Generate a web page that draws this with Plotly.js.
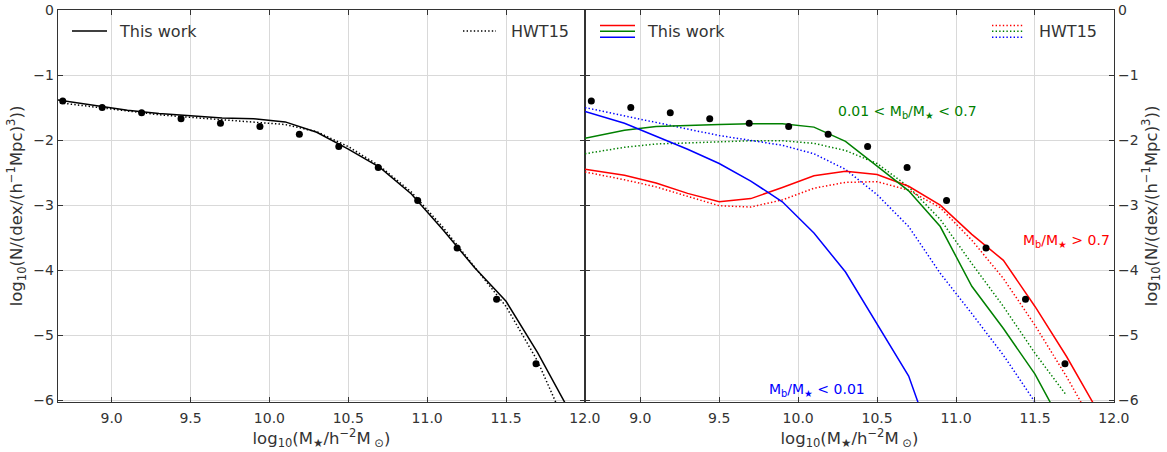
<!DOCTYPE html>
<html>
<head>
<meta charset="utf-8">
<script src="https://cdn.plot.ly/plotly-3.0.1.min.js"></script>
<style>html,body{margin:0;padding:0;background:#fff;}#chart{width:1167px;height:452px;}</style>
</head>
<body>
<div id="chart"></div>
<script>
// ---- data ----
const massBins = [8.65, 8.9, 9.1, 9.3, 9.5, 9.7, 9.9, 10.1, 10.3, 10.5, 10.7, 10.9, 11.1, 11.3, 11.5, 11.7, 11.9];

// left panel: all galaxies
const allThisWork = [-1.38, -1.47, -1.54, -1.59, -1.63, -1.66, -1.67, -1.72, -1.88, -2.14, -2.42, -2.83, -3.38, -3.96, -4.48, -5.27, -6.16];
const allHWT15    = [-1.42, -1.49, -1.55, -1.61, -1.65, -1.69, -1.72, -1.76, -1.87, -2.10, -2.40, -2.80, -3.34, -3.95, -4.56, -5.40, -6.50];

// observational points (black dots, both panels)
const obsMass = [8.69, 8.94, 9.19, 9.44, 9.69, 9.94, 10.19, 10.44, 10.69, 10.94, 11.19, 11.44, 11.69];
const obsPhi  = [-1.40, -1.50, -1.58, -1.67, -1.74, -1.79, -1.91, -2.10, -2.42, -2.93, -3.66, -4.45, -5.44];

// right panel: split by bulge-to-total ratio
const highThisWork = [-2.45, -2.54, -2.66, -2.82, -2.95, -2.90, -2.73, -2.55, -2.48, -2.53, -2.71, -3.00, -3.45, -3.85, -4.56, -5.33, -6.18];
const highHWT15    = [-2.49, -2.61, -2.72, -2.86, -3.01, -3.03, -2.92, -2.74, -2.65, -2.64, -2.77, -3.04, -3.54, -4.13, -4.85, -5.64, -6.50];
const midThisWork  = [-1.97, -1.85, -1.79, -1.77, -1.76, -1.75, -1.75, -1.80, -2.02, -2.40, -2.78, -3.33, -4.25, -4.90, -5.60, -6.50, null];
const midHWT15     = [-2.21, -2.11, -2.06, -2.04, -2.03, -2.01, -2.01, -2.05, -2.16, -2.36, -2.72, -3.22, -3.90, -4.56, -5.28, -5.93, null];
const lowThisWork  = [-1.56, -1.74, -1.94, -2.14, -2.36, -2.63, -2.95, -3.43, -4.03, -4.82, -5.63, -7.00, null, null, null, null, null];
const lowHWT15     = [-1.50, -1.63, -1.73, -1.83, -1.93, -2.00, -2.08, -2.21, -2.45, -2.84, -3.33, -4.05, -4.67, -5.31, -6.03, -6.80, null];

const xTickVals = [9.0, 9.5, 10.0, 10.5, 11.0, 11.5, 12.0];
const yTickVals = [0, -1, -2, -3, -4, -5, -6];

// ---- styling ----
const RED = '#ff0000', GREEN = '#008000', BLUE = '#0000ff', BLACK = '#000000';
const DOT = '1.4px,2.2px';
const LW = 1.5;
const FONT = 'DejaVu Sans, sans-serif';
const TXT = '#333333';

function line(x, y, color, dash, xa, ya) {
  return {x: x, y: y, type: 'scatter', mode: 'lines', xaxis: xa, yaxis: ya,
          line: {color: color, width: LW, dash: dash}, connectgaps: false, hoverinfo: 'skip'};
}
function dots(xa, ya) {
  return {x: obsMass, y: obsPhi, type: 'scatter', mode: 'markers', xaxis: xa, yaxis: ya,
          marker: {color: BLACK, size: 7}, hoverinfo: 'skip'};
}

const traces = [
  line(massBins, allThisWork, BLACK, 'solid', 'x', 'y'),
  line(massBins, allHWT15, BLACK, DOT, 'x', 'y'),
  dots('x', 'y'),
  line(massBins, highHWT15, RED, DOT, 'x2', 'y2'),
  line(massBins, midHWT15, GREEN, DOT, 'x2', 'y2'),
  line(massBins, lowHWT15, BLUE, DOT, 'x2', 'y2'),
  line(massBins, highThisWork, RED, 'solid', 'x2', 'y2'),
  line(massBins, midThisWork, GREEN, 'solid', 'x2', 'y2'),
  line(massBins, lowThisWork, BLUE, 'solid', 'x2', 'y2'),
  dots('x2', 'y2')
];

const xTitle = 'log<sub>10</sub>(M<sub>★</sub>/h<sup>−2</sup>M<sub> ⊙</sub>)';
const yTitle = 'log<sub>10</sub>(N/(dex/(h<sup>−1</sup>Mpc)<sup>3</sup>))';

function xAxis(domain, range, anchor) {
  return {
    domain: domain, range: range, anchor: anchor,
    tickmode: 'array', tickvals: xTickVals, ticktext: xTickVals.map(v => v.toFixed(1)),
    ticks: 'inside', ticklen: 5, tickwidth: 1, tickcolor: TXT, ticklabelstandoff: 3,
    showline: true, linecolor: TXT, linewidth: 1.2, mirror: 'ticks',
    showgrid: true, gridcolor: '#d9d9d9', gridwidth: 1, zeroline: false,
    tickfont: {family: FONT, size: 14, color: TXT},
    title: {text: xTitle, font: {family: FONT, size: 16.5, color: TXT}, standoff: 7}
  };
}
function yAxis(anchor, side) {
  return {
    domain: [0, 1], range: [-6.03, 0.002], anchor: anchor, side: side,
    tickmode: 'array', tickvals: yTickVals,
    ticks: 'inside', ticklen: 5, tickwidth: 1, tickcolor: TXT,
    showline: true, linecolor: TXT, linewidth: 1.2, mirror: 'ticks',
    showgrid: true, gridcolor: '#d9d9d9', gridwidth: 1, zeroline: false,
    tickfont: {family: FONT, size: 14, color: TXT},
    title: {text: yTitle, font: {family: FONT, size: 16.5, color: TXT}, standoff: 6}
  };
}

// legend samples drawn as paper shapes + text
const L = 58, W = 1056, T = 10, H = 392;
const px = v => (v - L) / W;
const py = v => (T + H - v) / H;
function seg(x0, x1, y, color, dash) {
  return {type: 'line', xref: 'paper', yref: 'paper', x0: px(x0), x1: px(x1), y0: py(y), y1: py(y),
          line: {color: color, width: LW, dash: dash}};
}
function legText(x, y, text) {
  return {xref: 'paper', yref: 'paper', x: px(x), y: py(y), xanchor: 'left', yanchor: 'middle',
          text: text, showarrow: false, font: {family: FONT, size: 16, color: TXT}};
}

const shapes = [
  seg(72, 107, 31, BLACK, 'solid'),
  seg(463, 496, 31, BLACK, DOT),
  seg(600, 635, 25.5, RED, 'solid'),
  seg(600, 635, 31.3, GREEN, 'solid'),
  seg(600, 635, 37.3, BLUE, 'solid'),
  seg(992, 1024, 25.5, RED, DOT),
  seg(992, 1024, 31.3, GREEN, DOT),
  seg(992, 1024, 37.3, BLUE, DOT)
];

const annotations = [
  legText(117, 31, 'This work'),
  legText(509, 31, 'HWT15'),
  legText(645, 31, 'This work'),
  legText(1037, 31, 'HWT15'),
  {xref: 'x2', yref: 'y2', x: 10.69, y: -1.56, text: '0.01 &lt; M<sub>b</sub>/M<sub>★</sub> &lt; 0.7',
   showarrow: false, font: {family: FONT, size: 14, color: GREEN}},
  {xref: 'x2', yref: 'y2', x: 11.70, y: -3.55, text: 'M<sub>b</sub>/M<sub>★</sub> &gt; 0.7',
   showarrow: false, font: {family: FONT, size: 14, color: RED}},
  {xref: 'x2', yref: 'y2', x: 10.12, y: -5.84, text: 'M<sub>b</sub>/M<sub>★</sub> &lt; 0.01',
   showarrow: false, font: {family: FONT, size: 14, color: BLUE}}
];

const layout = {
  width: 1167, height: 452,
  margin: {l: L, r: 1167 - L - W, t: T, b: 452 - T - H, pad: 0},
  paper_bgcolor: '#ffffff', plot_bgcolor: '#ffffff',
  showlegend: false,
  font: {family: FONT, color: TXT, size: 14},
  xaxis: xAxis([0, 527 / 1056], [8.66, 12.0005], 'y'),
  yaxis: yAxis('x', 'left'),
  xaxis2: xAxis([527 / 1056, 1], [8.65, 12.0005], 'y2'),
  yaxis2: yAxis('x2', 'right'),
  shapes: shapes,
  annotations: annotations
};

Plotly.newPlot('chart', traces, layout, {staticPlot: true, displayModeBar: false});
</script>
</body>
</html>
